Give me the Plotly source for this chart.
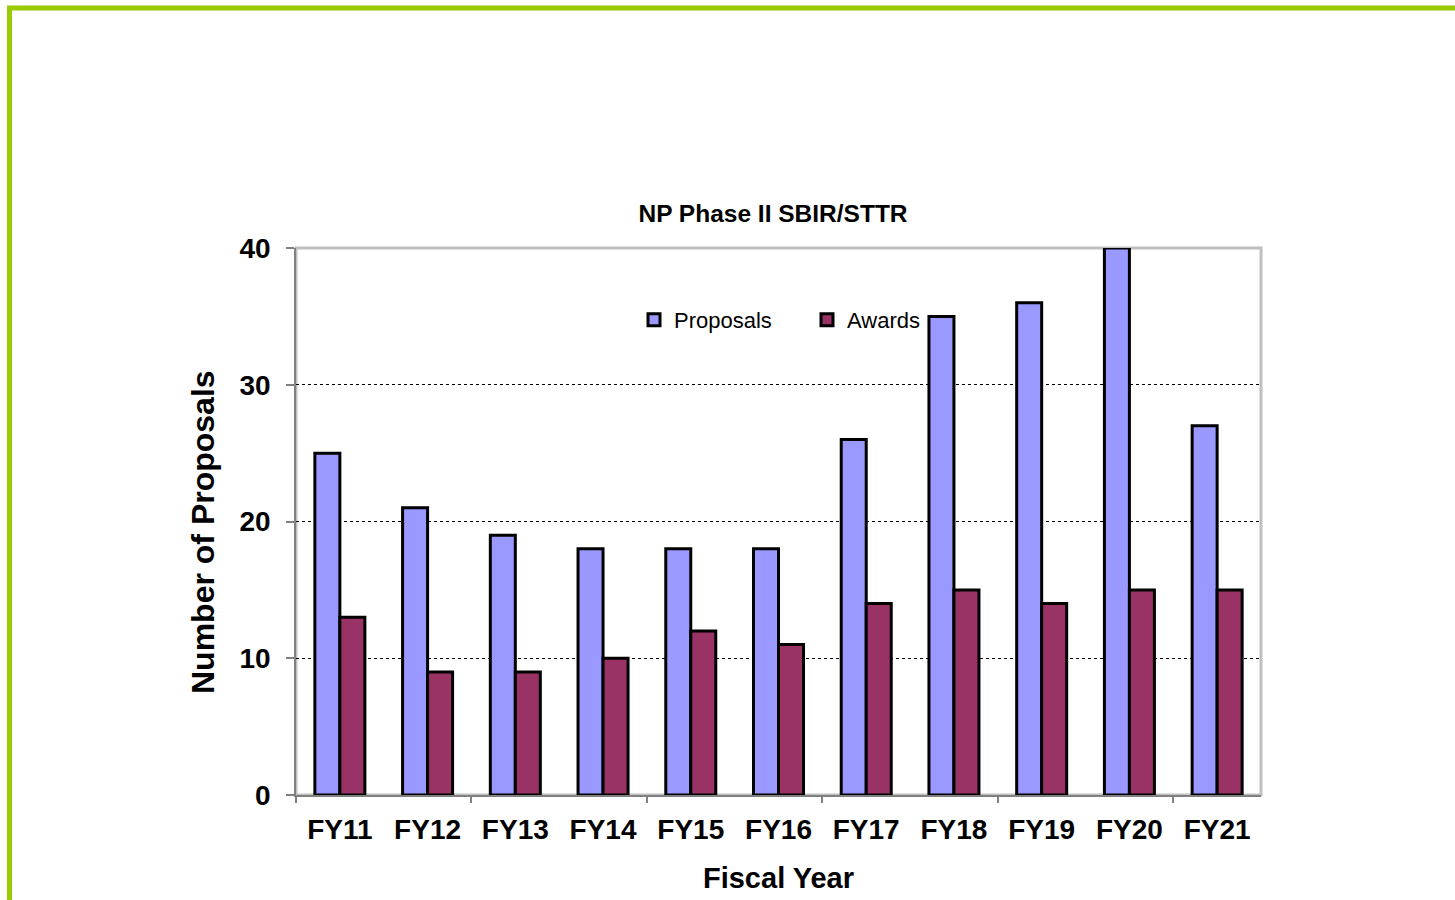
import plotly.graph_objects as go

# Fiscal years and counts for NP Phase II SBIR/STTR
years = ["FY11", "FY12", "FY13", "FY14", "FY15", "FY16", "FY17", "FY18", "FY19", "FY20", "FY21"]
proposals = [25, 21, 19, 18, 18, 18, 26, 35, 36, 40, 27]
awards = [13, 9, 9, 10, 12, 11, 14, 15, 14, 15, 15]
y_ticks = [0, 10, 20, 30, 40]
x_major_ticks = [0, 2, 4, 6, 8, 10]

FONT = "Liberation Sans, Arial, sans-serif"
W, H = 1455, 900
L, R, T, B = 296, 194, 248, 105

fig = go.Figure()
fig.add_trace(go.Bar(
    x=years, y=proposals, name="Proposals",
    marker=dict(color="#9999FF", line=dict(color="black", width=3)),
))
fig.add_trace(go.Bar(
    x=years, y=awards, name="Awards",
    marker=dict(color="#993366", line=dict(color="black", width=3)),
))
# empty helper trace so the overlaid tick axis gets drawn
fig.add_trace(go.Scatter(
    x=[None], y=[None], xaxis="x2", mode="markers",
    showlegend=False, hoverinfo="skip",
))

pw = W - L - R
ph = H - T - B


def px_x(p):
    return (p - L) / pw


def px_y(p):
    return (H - B - p) / ph


fig.update_layout(
    width=W, height=H,
    margin=dict(l=L, r=R, t=T, b=B, pad=0),
    paper_bgcolor="white", plot_bgcolor="white",
    barmode="group", bargap=0.43, bargroupgap=0,
    font=dict(family=FONT, color="black"),
    title=dict(
        text="<b>NP Phase II SBIR/STTR</b>",
        font=dict(size=24.5, family=FONT, color="black"),
        xref="container", yref="container",
        x=773 / W, y=1 - 213 / H, xanchor="center", yanchor="middle",
    ),
    xaxis=dict(
        type="category", showgrid=False, ticks="", showline=True,
        linecolor="#808080", linewidth=1.5,
        tickfont=dict(size=28, family=FONT, color="black", weight="bold"),
        title=dict(text="<b>Fiscal Year</b>", font=dict(size=29, family=FONT, color="black"),
                   standoff=23),
        ticklabelstandoff=9,
    ),
    xaxis2=dict(
        overlaying="x", anchor="y", side="bottom", range=[0, 11],
        tickmode="array", tickvals=x_major_ticks, ticks="outside",
        ticklen=7, tickwidth=1.5, tickcolor="#808080",
        showticklabels=False, showgrid=False, showline=False, zeroline=False,
    ),
    yaxis=dict(
        range=[0, 40], tickmode="array", tickvals=y_ticks,
        showgrid=True, gridcolor="black", gridwidth=1, griddash="dot",
        zeroline=False, showline=True, linecolor="#808080", linewidth=1.5,
        ticks="outside", ticklen=8, tickwidth=1.5, tickcolor="#808080",
        tickfont=dict(size=28, family=FONT, color="black", weight="bold"),
        ticklabelstandoff=10,
    ),
    annotations=[
        dict(text="<b>Number of Proposals</b>", textangle=-90,
             xref="paper", yref="paper", x=px_x(203), y=px_y(532),
             xanchor="center", yanchor="middle", showarrow=False,
             font=dict(size=32, family=FONT, color="black")),
    ],
    legend=dict(
        orientation="h", x=px_x(634), y=px_y(320), xanchor="left", yanchor="middle",
        font=dict(size=22, family=FONT, color="black"),
        bgcolor="rgba(0,0,0,0)", entrywidth=128, entrywidthmode="pixels",
        itemclick=False,
    ),
    shapes=[
        # light grey plot frame (top and right edges show)
        dict(type="rect", xref="paper", yref="paper", x0=0, x1=1, y0=0, y1=1,
             line=dict(color="#C0C0C0", width=3), layer="below"),
        # green slide border
        dict(type="rect", xref="paper", yref="paper",
             x0=px_x(9.5), x1=px_x(1500), y0=px_y(8), y1=px_y(950),
             line=dict(color="#99CC00", width=5), layer="above"),
    ],
)

fig.write_html("out.html")
